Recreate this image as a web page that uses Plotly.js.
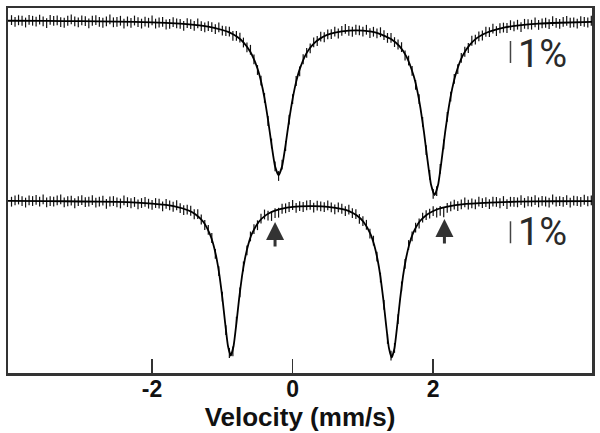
<!DOCTYPE html>
<html><head><meta charset="utf-8">
<script src="https://cdn.plot.ly/plotly-3.0.1.min.js"></script>
<style>html,body{margin:0;padding:0;background:#fff}#chart{width:600px;height:433px}</style>
</head><body><div id="chart"></div>
<script>
// Doppler velocity channels (mm/s)
const velocity = [
-4.00,-3.95,-3.90,-3.85,-3.80,-3.75,-3.70,-3.65,-3.60,-3.55,
-3.50,-3.45,-3.40,-3.35,-3.30,-3.25,-3.20,-3.15,-3.10,-3.05,
-3.00,-2.95,-2.90,-2.85,-2.80,-2.75,-2.70,-2.65,-2.60,-2.55,
-2.50,-2.45,-2.40,-2.35,-2.30,-2.25,-2.20,-2.15,-2.10,-2.05,
-2.00,-1.95,-1.90,-1.85,-1.80,-1.75,-1.70,-1.65,-1.60,-1.55,
-1.50,-1.45,-1.40,-1.35,-1.30,-1.25,-1.20,-1.15,-1.10,-1.05,
-1.00,-0.95,-0.90,-0.85,-0.80,-0.75,-0.70,-0.65,-0.60,-0.55,
-0.50,-0.45,-0.40,-0.35,-0.30,-0.25,-0.20,-0.15,-0.10,-0.05,
0.00,0.05,0.10,0.15,0.20,0.25,0.30,0.35,0.40,0.45,
0.50,0.55,0.60,0.65,0.70,0.75,0.80,0.85,0.90,0.95,
1.00,1.05,1.10,1.15,1.20,1.25,1.30,1.35,1.40,1.45,
1.50,1.55,1.60,1.65,1.70,1.75,1.80,1.85,1.90,1.95,
2.00,2.05,2.10,2.15,2.20,2.25,2.30,2.35,2.40,2.45,
2.50,2.55,2.60,2.65,2.70,2.75,2.80,2.85,2.90,2.95,
3.00,3.05,3.10,3.15,3.20,3.25,3.30,3.35,3.40,3.45,
3.50,3.55,3.60,3.65,3.70,3.75,3.80,3.85,3.90,3.95,
4.00,4.05,4.10,4.15,4.20,4.25];

// Upper spectrum, relative transmission (%)
const topData = [
100.00,99.92,99.99,99.97,99.89,100.01,99.97,99.93,100.02,99.94,
99.86,100.01,99.96,99.99,99.91,99.88,99.97,100.03,99.94,99.90,
99.99,99.95,99.85,99.97,100.00,99.92,99.88,99.94,100.03,99.90,
99.92,99.97,99.84,99.94,99.87,99.98,99.91,99.84,99.93,99.88,
99.99,99.84,99.89,99.92,99.80,99.83,99.91,99.85,99.83,99.74,
99.86,99.82,99.74,99.85,99.73,99.67,99.73,99.68,99.59,99.67,
99.52,99.50,99.48,99.28,99.28,99.20,98.98,98.76,98.65,98.21,
97.73,97.25,96.46,95.41,94.39,93.35,92.91,93.43,94.27,95.47,
96.41,97.23,97.67,98.22,98.51,98.71,98.99,99.05,99.25,99.22,
99.35,99.36,99.48,99.39,99.51,99.60,99.51,99.47,99.56,99.53,
99.48,99.56,99.41,99.47,99.40,99.45,99.32,99.19,99.19,99.00,
98.89,98.77,98.39,98.16,97.69,97.05,96.41,95.37,94.09,92.96,
92.10,92.22,93.23,94.35,95.60,96.52,97.33,97.77,98.28,98.56,
98.73,99.06,99.11,99.26,99.30,99.47,99.45,99.61,99.50,99.63,
99.66,99.64,99.77,99.71,99.79,99.68,99.83,99.81,99.79,99.90,
99.78,99.85,99.88,99.82,99.95,99.87,99.83,99.92,99.96,99.88,
99.90,99.84,99.95,99.92,99.89,99.97];

// Lower spectrum, relative transmission (%)
const bottomData = [
99.94,100.00,100.04,99.97,99.90,100.00,99.97,100.02,99.94,100.05,
99.91,99.97,99.94,100.00,100.05,99.91,99.96,99.99,99.87,99.97,
100.01,99.92,99.94,100.01,99.90,99.94,99.99,99.84,99.95,99.97,
99.91,99.86,100.00,99.92,99.87,99.93,99.82,99.88,99.93,99.85,
99.80,99.88,99.85,99.73,99.84,99.77,99.71,99.78,99.65,99.56,
99.58,99.53,99.37,99.38,99.13,98.88,98.66,98.29,97.57,96.78,
95.62,94.10,93.06,93.13,94.49,95.82,97.00,97.73,98.36,98.69,
98.87,99.17,99.36,99.31,99.29,99.42,99.44,99.62,99.64,99.70,
99.79,99.66,99.74,99.70,99.77,99.80,99.67,99.76,99.73,99.69,
99.77,99.68,99.59,99.68,99.62,99.51,99.58,99.42,99.38,99.16,
99.06,98.89,98.49,98.17,97.44,96.49,95.25,93.70,92.94,93.29,
94.60,96.09,97.11,97.97,98.36,98.76,98.95,99.22,99.33,99.40,
99.51,99.44,99.52,99.46,99.66,99.73,99.81,99.74,99.82,99.91,
99.81,99.86,99.82,99.94,99.88,99.92,99.83,99.94,99.93,99.87,
99.97,99.83,99.94,99.93,99.91,100.01,99.89,99.96,99.94,100.01,
99.91,99.98,99.95,99.90,100.04,99.94,99.97,99.93,100.01,99.90,
99.99,99.97,99.93,100.03,99.96,100.00];

// Fitted curves
const topFitX = [-4.05,-3.5,-3.0,-2.5,-2.0,-1.6,-1.4,-1.2,-1.0,-0.9,-0.8,-0.7,-0.6,-0.5,-0.45,-0.4,-0.35,-0.3,-0.25,-0.2,
-0.15,-0.1,-0.05,0,0.05,0.1,0.2,0.3,0.4,0.5,0.6,0.8,1.0,1.22,1.42,1.52,1.62,1.72,1.77,1.82,
1.87,1.92,1.97,2.02,2.07,2.12,2.17,2.22,2.27,2.32,2.42,2.52,2.62,2.72,2.82,3.02,3.22,3.5,3.8,4.26];
const topFitY = [99.97,99.96,99.95,99.93,99.90,99.84,99.78,99.70,99.55,99.44,99.26,98.99,98.55,97.80,97.22,96.45,95.46,94.34,93.35,92.94,
93.35,94.33,95.45,96.42,97.19,97.76,98.51,98.93,99.18,99.34,99.43,99.52,99.52,99.40,99.10,98.82,98.34,97.49,96.85,95.98,
94.88,93.62,92.51,92.04,92.51,93.63,94.89,96.00,96.87,97.53,98.38,98.87,99.18,99.37,99.50,99.67,99.76,99.84,99.88,99.92];
const bottomFitX = [-4.05,-3.5,-3.0,-2.5,-2.0,-1.68,-1.48,-1.38,-1.28,-1.18,-1.13,-1.08,-1.04,-1.0,-0.96,-0.92,-0.88,-0.84,-0.80,-0.76,
-0.72,-0.68,-0.63,-0.58,-0.48,-0.38,-0.28,-0.18,-0.08,0.1,0.3,0.5,0.71,0.81,0.91,1.01,1.11,1.16,1.21,1.25,
1.29,1.33,1.37,1.41,1.45,1.49,1.53,1.57,1.61,1.66,1.71,1.81,1.91,2.01,2.11,2.41,2.8,3.2,3.7,4.26];
const bottomFitY = [99.98,99.97,99.95,99.93,99.85,99.73,99.54,99.36,99.06,98.49,98.02,97.33,96.57,95.58,94.42,93.38,92.94,93.38,94.41,95.57,
96.56,97.32,98.01,98.48,99.03,99.33,99.50,99.60,99.67,99.73,99.74,99.71,99.60,99.50,99.32,99.02,98.46,97.98,97.29,96.52,
95.51,94.34,93.29,92.85,93.29,94.35,95.52,96.53,97.30,98.00,98.48,99.05,99.35,99.53,99.65,99.82,99.90,99.94,99.96,99.97];

const bottomOffset = 8.2;          // vertical offset of lower spectrum (%)
const tickVals = [-2, 0, 2];
const tickText = ['-2', '0', '2'];
const axisTitle = 'Velocity (mm/s)';
const scaleLabel = '1%';
const scaleBarX = 3.10;
const scaleBarBase = [98.05, 89.85];   // lower end of each 1% bar
const scaleTextY = [98.45, 90.35];
const arrowX = [-0.25, 2.16];
const arrowY = [90.82, 90.95];

const shift = a => a.map(v => v - bottomOffset);
const ink = '#111';

const tickMarker = {symbol: 'line-ns-open', size: 7, line: {width: 1.2, color: ink}, color: ink};
const traces = [
  {x: velocity, y: topData, mode: 'markers', type: 'scatter', marker: tickMarker, hoverinfo: 'skip'},
  {x: velocity, y: shift(bottomData), mode: 'markers', type: 'scatter', marker: tickMarker, hoverinfo: 'skip'},
  {x: topFitX, y: topFitY, mode: 'lines', type: 'scatter', line: {color: '#000', width: 1.8, shape: 'spline', smoothing: 0.5}},
  {x: bottomFitX, y: shift(bottomFitY), mode: 'lines', type: 'scatter', line: {color: '#000', width: 1.8, shape: 'spline', smoothing: 0.5}}
];

const shapes = scaleBarBase.map(b => ({type: 'line', xref: 'x', yref: 'y', x0: scaleBarX, x1: scaleBarX, y0: b, y1: b + 1,
  line: {color: '#444', width: 1.5}}));

const annotations = [];
scaleTextY.forEach(y => annotations.push({x: scaleBarX + 0.08, y: y, xref: 'x', yref: 'y', text: scaleLabel, showarrow: false,
  xanchor: 'left', yanchor: 'middle', font: {family: 'Roboto, Liberation Sans, Arial', size: 38, color: '#2a2a2a'}}));
arrowX.forEach((x, i) => annotations.push({x: x, y: arrowY[i], xref: 'x', yref: 'y', text: '', showarrow: true,
  ax: 0, ay: 26, arrowhead: 2, arrowsize: 1.2, arrowwidth: 3, arrowcolor: '#333', standoff: 0}));

const layout = {
  width: 600, height: 433,
  margin: {l: 8, r: 8, t: 8, b: 60},
  paper_bgcolor: '#fff', plot_bgcolor: '#fff',
  showlegend: false,
  xaxis: {range: [-4.05, 4.26], showline: true, mirror: true, linecolor: '#333', linewidth: 2.5,
    ticks: 'inside', ticklen: 14, tickwidth: 1.5, tickcolor: '#333',
    tickmode: 'array', tickvals: tickVals, ticktext: tickText,
    tickfont: {family: 'Liberation Sans, Arial', size: 23, weight: 'bold', color: '#111'},
    ticklabelstandoff: -6,
    showgrid: false, zeroline: false,
    title: {text: axisTitle, font: {family: 'Liberation Sans, Arial', size: 26, weight: 'bold', color: '#111'}, standoff: 4}},
  yaxis: {range: [83.95, 100.55], showline: true, mirror: true, linecolor: '#333', linewidth: 2.5,
    ticks: '', showticklabels: false, showgrid: false, zeroline: false},
  shapes: shapes,
  annotations: annotations
};

Plotly.newPlot('chart', traces, layout, {staticPlot: true, displayModeBar: false});
</script>
</body></html>
